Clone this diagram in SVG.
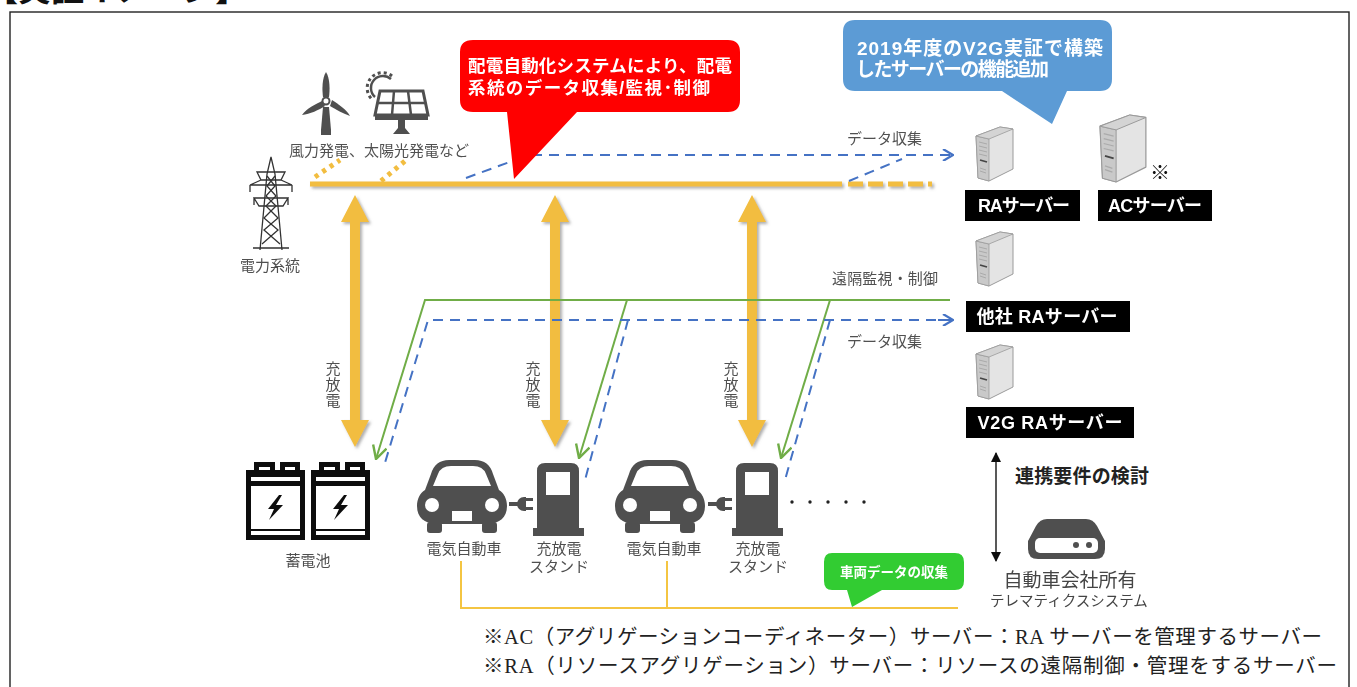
<svg xmlns="http://www.w3.org/2000/svg" width="1357" height="687" viewBox="0 0 1357 687">
<style>
text{font-family:"Liberation Sans","Noto Sans CJK JP",sans-serif}
.g{fill:#505050;font-size:15px}
.c{text-anchor:middle}
.w{fill:#fff;font-weight:bold}
.ic{fill:#505050}
.note{font-family:"Liberation Serif","Noto Sans CJK JP",serif;font-size:20.5px;fill:#222}
.dash{stroke:#4472c4;stroke-width:2;fill:none;stroke-dasharray:10 7}
.grn{stroke:#70ad47;stroke-width:2;fill:none}
.ylw{stroke:#f4c542;stroke-width:2;fill:none}
</style>
<defs>
<filter id="sh" filterUnits="userSpaceOnUse" x="-100" y="-100" width="1557" height="887"><feDropShadow dx="2" dy="2" stdDeviation="1.6" flood-color="#777" flood-opacity=".6"/></filter>
<filter id="soft"><feGaussianBlur stdDeviation="0.35"/></filter>
<marker id="bl" viewBox="0 0 12 12" refX="11" refY="6" markerWidth="12" markerHeight="12" markerUnits="userSpaceOnUse" orient="auto"><path d="M1 0L11 6L1 12" fill="none" stroke="#4472c4" stroke-width="2.2"/></marker>
<marker id="gr" viewBox="0 0 16 16" refX="15" refY="8" markerWidth="16" markerHeight="16" markerUnits="userSpaceOnUse" orient="auto"><path d="M2 1L15 8L2 15" fill="none" stroke="#70ad47" stroke-width="2.4"/></marker>
<marker id="bk" viewBox="0 0 10 10" refX="9" refY="5" markerWidth="10" markerHeight="10" markerUnits="userSpaceOnUse" orient="auto-start-reverse"><path d="M0 0L10 5L0 10Z" fill="#111"/></marker>
<g id="server" stroke-linejoin="round">
<path d="M0 9L24 0L37 2V42L13 54L2 51Z" fill="#e4e4e4" stroke="#9a9a9a" stroke-width="1"/>
<path d="M0 9L13 12V54L2 51Z" fill="#c9c9c9" stroke="#9a9a9a" stroke-width=".8"/>
<path d="M0 9L24 0L37 2L13 12Z" fill="#d4d4d4" stroke="#9a9a9a" stroke-width=".8"/>
<path d="M3 15L11 17M3 19L11 21M3 23L11 25M3 27L11 29" stroke="#aaa" stroke-width="1"/>
<path d="M4 33L11 35" stroke="#444" stroke-width="1.6"/>
<path d="M4 41L10 43M4 44L10 46" stroke="#aaa"/>
</g>
<g id="arrow2"><path d="M0 0L14 27H5V225H14L0 252L-14 225H-5V27H-14Z" fill="#f2bd3f" filter="url(#sh)"/></g>
<g id="car" class="ic">
<path d="M8 30L14 14Q18 0 32 0H58Q72 0 76 14L82 30C87 33 90 39 90 46C90 58 82 63 72 64H18C8 63 0 58 0 46C0 39 3 33 8 30Z"/>
<rect x="10" y="62" width="15" height="11" rx="3"/><rect x="65" y="62" width="15" height="11" rx="3"/>
<path d="M16 26L21 14Q24 6 34 6H56Q66 6 69 14L74 26Z" fill="#fff"/>
<circle cx="15" cy="45" r="7" fill="#fff"/><circle cx="75" cy="45" r="7" fill="#fff"/>
<rect x="35" y="51" width="20" height="10" fill="#fff"/>
</g>
<g id="stand" class="ic">
<path d="M4 65V8Q4 0 12 0H38Q46 0 46 8V65H51V73H0V65Z"/>
<rect x="13" y="9" width="24" height="23" fill="#fff"/>
<path d="M-24 39H-15V43H-24Z"/>
<path d="M-16 41A7 7 0 0 1 -9 34H-7V48H-9A7 7 0 0 1 -16 41Z"/>
<path d="M-8 35H0V38H-8ZM-8 44H0V47H-8Z"/>
</g>
<g id="batt">
<path d="M8 10V0H29V10ZM34 10V0H54V10Z" fill="#111"/>
<path d="M13 9V5H24V9ZM39 9V5H49V9Z" fill="#fff"/>
<rect x="0" y="8" width="59" height="70" fill="#111"/>
<rect x="5" y="15" width="49" height="4" fill="#fff"/>
<rect x="5" y="24" width="49" height="43" fill="#fff"/>
<rect x="5" y="69" width="49" height="4" fill="#fff"/>
<path d="M33 33L22 47H28L23 58L37 43H30L36 33Z" fill="#111"/>
</g>
</defs>

<text x="-15" y="1" font-size="33" font-weight="bold" style="font-family:'Liberation Serif','Noto Sans CJK JP',serif" fill="#111">【実証イメージ】</text>
<rect id="frame" x="10" y="12" width="1339" height="690" fill="none" stroke="#222" stroke-width="1.4"/>

<g id="connectors" filter="url(#soft)">
<path d="M310 184H842" stroke="#f2bd3f" stroke-width="5" fill="none" filter="url(#sh)"/>
<path d="M848 184H932" stroke="#f2bd3f" stroke-width="5" fill="none" stroke-dasharray="15 5" filter="url(#sh)"/>
<path d="M315 177L340 160M381 181L405 161" stroke="#f2bd3f" stroke-width="5" fill="none" stroke-dasharray="4 5"/>
<use href="#arrow2" x="355" y="195"/><use href="#arrow2" x="555" y="195"/><use href="#arrow2" x="752" y="195"/>
<path class="dash" d="M466 178L515 160"/>
<path class="dash" d="M515 155H953" marker-end="url(#bl)"/>
<path class="dash" d="M849 181L902 159"/>
<path class="grn" d="M950 300H425L376 459" marker-end="url(#gr)"/>
<path class="grn" d="M627 300L579 458" marker-end="url(#gr)"/>
<path class="grn" d="M830 300L781 458" marker-end="url(#gr)"/>
<path class="dash" d="M953 320H428L384 466"/>
<path class="dash" d="M938 320H953" marker-end="url(#bl)"/>
<path class="dash" d="M628 320L585 480"/>
<path class="dash" d="M830 320L785 480"/>
<path class="ylw" d="M461 561V608H958M667 561V608"/>
<path d="M996 453V561" stroke="#222" stroke-width="1.500" fill="none" marker-start="url(#bk)" marker-end="url(#bk)"/>
</g>

<g id="grid" filter="url(#soft)">
<g id="tower" fill="none" stroke="#333" stroke-width="1.300">
<path d="M260 250L267 174L271 157L275 174L282 250M253 248H289"/>
<path d="M257 172H285L281 180H261ZM250 185H292M250 185V192M292 185V192M261 180L250 185M281 180L292 185M254 198H288L283 206H259ZM254 198V205M288 198V205"/>
<path d="M267 176L275 186L266 196L276 206L264 218L278 230L262 244M275 176L267 186L276 196L266 206L278 218L264 230L280 244"/>
</g>
<text class="g c" x="270" y="271">電力系統</text>
</g>

<g id="wind" class="ic" filter="url(#soft)">
<path d="M326 72C330 78 330 90 329 97H323C322 90 322 78 326 72Z"/>
<path d="M302 115C307 108 316 104 322 101L325 106C319 110 310 114 302 115Z"/>
<path d="M350 116C344 114 335 109 330 106L332 100C338 104 347 110 350 116Z"/>
<circle cx="326" cy="101" r="3.500" fill="none" stroke="#505050" stroke-width="2"/>
<path d="M323 107H329L331 130V135H321V130Z"/>
</g>
<g id="solar" filter="url(#soft)">
<path d="M391 79A11 11 0 0 0 375 97" fill="none" stroke="#505050" stroke-width="2.500"/>
<path d="M392 76A14 14 0 0 0 373 100" fill="none" stroke="#505050" stroke-width="3" stroke-dasharray="3 3"/>
<path d="M380 91H423L428 115H375Z" fill="#fff" stroke="#505050" stroke-width="3"/>
<path d="M394 91L392 115M408 91L411 115M378 103H425" stroke="#505050" stroke-width="2.500"/>
<path d="M375 116H428V120H375ZM398 120H405V128L410 134H393L398 128Z" fill="#505050"/>
</g>
<text class="g" x="289" y="156" textLength="180">風力発電、太陽光発電など</text>

<g id="callout-red" filter="url(#soft)">
<path d="M473 40H728Q740 40 740 52V100Q740 112 728 112H577L514 179L507 112H473Q460 112 460 100V52Q460 40 473 40Z" fill="#f00"/>
<text class="w" x="468" y="72" font-size="17.500" textLength="264">配電自動化システムにより、配電</text>
<text class="w" x="468" y="94" font-size="17.500" textLength="242">系統のデータ収集/監視･制御</text>
</g>
<g id="callout-blue" filter="url(#soft)">
<path d="M855 20H1100Q1112 20 1112 32V79Q1112 91 1100 91H1067L1052 124L1002 91H855Q843 91 843 79V32Q843 20 855 20Z" fill="#5b9bd5"/>
<text class="w" x="857" y="55" font-size="19" textLength="246">2019年度のV2G実証で構築</text>
<text class="w" x="856" y="76" font-size="19" textLength="193">したサーバーの機能追加</text>
</g>

<text class="g" x="847" y="144" textLength="75">データ収集</text>
<text class="g" x="832" y="284" textLength="106">遠隔監視・制御</text>
<text class="g" x="847" y="347" textLength="75">データ収集</text>

<g id="srv-ra" filter="url(#soft)"><use href="#server" x="976" y="127"/>
<rect x="965" y="190" width="115" height="31" fill="#000"/><text class="w c" x="1024" y="212" font-size="18" textLength="92">RAサーバー</text></g>
<g id="srv-ac" filter="url(#soft)"><use href="#server" transform="translate(1100 115) scale(1.240)"/>
<rect x="1098" y="190" width="114" height="31" fill="#000"/><text class="w c" x="1155" y="212" font-size="18" textLength="94">ACサーバー</text></g>
<text x="1150" y="180" font-size="20" fill="#111" style="font-family:'Noto Sans CJK JP',sans-serif">※</text>
<g id="srv-other" filter="url(#soft)"><use href="#server" x="976" y="232"/>
<rect x="966" y="301" width="164" height="31" fill="#000"/><text class="w c" x="1047" y="323" font-size="18" textLength="141">他社 RAサーバー</text></g>
<g id="srv-v2g" filter="url(#soft)"><use href="#server" x="976" y="345"/>
<rect x="966" y="407" width="168" height="31" fill="#000"/><text class="w c" x="1050" y="429" font-size="18" textLength="145">V2G RAサーバー</text></g>

<g id="charge-labels">
<text class="g c"><tspan x="333" y="374">充</tspan><tspan x="333" y="390">放</tspan><tspan x="333" y="406">電</tspan></text>
<text class="g c"><tspan x="533" y="374">充</tspan><tspan x="533" y="390">放</tspan><tspan x="533" y="406">電</tspan></text>
<text class="g c"><tspan x="731" y="374">充</tspan><tspan x="731" y="390">放</tspan><tspan x="731" y="406">電</tspan></text>
</g>

<g id="battery" filter="url(#soft)"><use href="#batt" x="246" y="462"/><use href="#batt" x="311" y="462"/>
<text class="g c" x="308" y="566">蓄電池</text></g>
<g id="ev1" filter="url(#soft)"><use href="#car" x="417" y="460"/><text class="g c" x="464" y="554">電気自動車</text></g>
<g id="st1" filter="url(#soft)"><use href="#stand" x="533" y="463"/><text class="g c" x="559" y="554">充放電</text><text class="g c" x="559" y="572">スタンド</text></g>
<g id="ev2" filter="url(#soft)"><use href="#car" x="615" y="460"/><text class="g c" x="664" y="554">電気自動車</text></g>
<g id="st2" filter="url(#soft)"><use href="#stand" x="732" y="463"/><text class="g c" x="758" y="554">充放電</text><text class="g c" x="758" y="572">スタンド</text></g>
<g id="dots" fill="#222"><circle cx="792" cy="502" r="1.700"/><circle cx="810" cy="502" r="1.700"/><circle cx="828" cy="502" r="1.700"/><circle cx="846" cy="502" r="1.700"/><circle cx="864" cy="502" r="1.700"/></g>

<g id="callout-green" filter="url(#soft)">
<path d="M832 553H955Q964 553 964 562V581Q964 590 955 590H882L852 607L847 590H832Q824 590 824 581V562Q824 553 832 553Z" fill="#33cc33"/>
<text class="w c" x="894" y="577" font-size="13.500">車両データの収集</text>
</g>

<text x="1015" y="483" font-size="19" font-weight="bold" fill="#222" textLength="134">連携要件の検討</text>
<g id="telematics" filter="url(#soft)">
<path d="M1047 519H1086Q1093 519 1097 526L1105 541V549Q1105 559 1095 559H1038Q1028 559 1028 549V541L1036 526Q1040 519 1047 519Z" fill="#505050"/>
<rect x="1035" y="538" width="63" height="15" rx="5" fill="#fff"/>
<circle cx="1076" cy="545" r="3" fill="#505050"/><circle cx="1089" cy="545" r="3" fill="#505050"/>
<text class="c" x="1070" y="587" font-size="19" fill="#444">自動車会社所有</text>
<text class="c" x="1069" y="606" font-size="14.500" fill="#444">テレマティクスシステム</text>
</g>

<g id="notes">
<text class="note" x="483" y="644" textLength="839">※AC（アグリゲーションコーディネーター）サーバー：RA サーバーを管理するサーバー</text>
<text class="note" x="483" y="673" textLength="854">※RA（リソースアグリゲーション）サーバー：リソースの遠隔制御・管理をするサーバー</text>
</g>
</svg>
